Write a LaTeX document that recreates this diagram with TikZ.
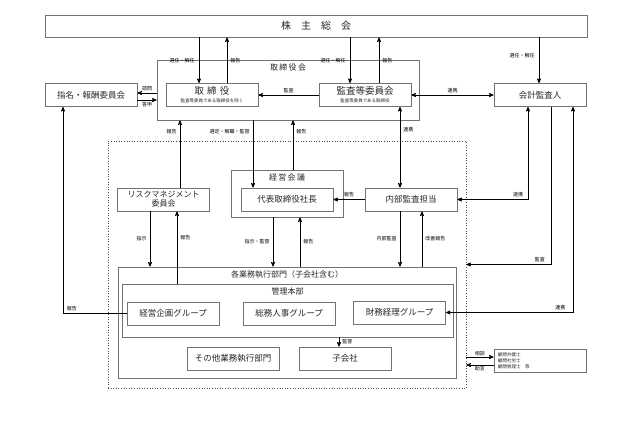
\documentclass[tikz,border=0pt]{standalone}
\usepackage{fontspec}
\setmainfont{Noto Sans CJK JP}
\usepackage{tikz}
\usetikzlibrary{arrows,positioning}
\tikzstyle{bx}=[draw=black!55, line width=0.8pt, minimum width=92pt, minimum height=23pt, inner sep=0pt, font=\fontsize{8.5}{10}\selectfont, text=black!85, align=center]
\tikzstyle{frame}=[draw=black!55, line width=0.8pt, inner sep=0pt, text=black!85]
\tikzstyle{lbl}=[font=\fontsize{5}{5.5}\selectfont, inner sep=1pt]
\tikzstyle{ttl}=[font=\fontsize{8}{10}\selectfont, inner sep=0pt, text=black!85]

\begin{document}
\begin{tikzpicture}
[x=1pt, y=-1pt, ->, >=stealth', line width=0.7pt]
 \useasboundingbox (0,0) rectangle (631,432);
 \node[frame, minimum width=542pt, minimum height=22pt, font=\fontsize{10}{12}\selectfont] (kabu) at (316,26) {株\quad 主\quad 総\quad 会};
 \node[frame, minimum width=262pt, minimum height=60pt] (torikai) at (288,90) {};
 \node[ttl, below=4pt of torikai.north] (torikailbl) {取\,締\,役\,会};
 \node[bx] (tori) at (212,95) {{\fontsize{9.5}{10}\selectfont 取\,\,締\,\,役}\\[-2pt]{\fontsize{4.5}{5}\selectfont 監査等委員である取締役を除く}};
 \node[bx] (kansa) at (365,95) {{\fontsize{9.5}{10}\selectfont 監査等委員会}\\[-2pt]{\fontsize{4.5}{5}\selectfont 監査等委員である取締役}};
 \node[bx] (shimei) at (91,95) {指名・報酬委員会};
 \node[bx] (kaikei) at (540,95) {会計監査人};
 \node[draw=black!70, dotted, line width=0.6pt, minimum width=358pt, minimum height=247pt] (soshiki) at (287,264.5) {};
 \node[frame, minimum width=112pt, minimum height=47pt] (keiei) at (287,193.5) {};
 \node[ttl, below=4pt of keiei.north] (keieilbl) {経\,営\,会\,議};
 \node[bx] (shacho) at (287,199.5) {代表取締役社長};
 \node[bx] (naibu) at (411,199.5) {内部監査担当};
 \node[bx, font=\fontsize{8}{9}\selectfont] (risk) at (163.5,199.5) {リスクマネジメント\\委員会};
 \node[frame, minimum width=338pt, minimum height=111pt] (gyomu) at (287,322.5) {};
 \node[ttl, below=4pt of gyomu.north] (gyomulbl) {各業務執行部門（子会社含む）};
 \node[frame, minimum width=331pt, minimum height=53pt] (kanri) at (287.5,310.5) {};
 \node[ttl, below=4pt of kanri.north] (kanrilbl) {管理本部};
 \node[bx] (kikaku) at (173,313.5) {経営企画グループ};
 \node[bx] (somu) at (289,313.5) {総務人事グループ};
 \node[bx] (zaimu) at (399.5,312.5) {財務経理グループ};
 \node[bx] (sonota) at (233,358.5) {その他業務執行部門};
 \node[bx] (kogaisha) at (345,358.5) {子会社};
 \node[bx, text width=84pt, inner xsep=4pt, align=left, font=\fontsize{4.5}{6}\selectfont] (komon) at (540,360.5) {顧問弁護士\\顧問社労士\\顧問税理士\quad 等};
 \draw ([xshift=-13pt]tori.north |- kabu.south) -- node[lbl, left=3pt] {選任・解任} ([xshift=-13pt]tori.north);
 \draw ([xshift=15pt]tori.north) -- node[lbl, right=2pt] {報告} ([xshift=15pt]tori.north |- kabu.south);
 \draw ([xshift=-15pt]kansa.north |- kabu.south) -- node[lbl, left=3pt] {選任・解任} ([xshift=-15pt]kansa.north);
 \draw ([xshift=14pt]kansa.north) -- node[lbl, right=2pt] {報告} ([xshift=14pt]kansa.north |- kabu.south);
 \draw ([xshift=-1pt]kaikei.north |- kabu.south) -- node[lbl, left=3pt, pos=0.4] {選任・解任} ([xshift=-1pt]kaikei.north);
 \draw ([yshift=2pt]shimei.east -| torikai.west) -- node[lbl, above=1pt] {諮問} ([yshift=2pt]shimei.east);
 \draw ([yshift=-5pt]shimei.east) -- node[lbl, below=1pt] {答申} ([yshift=-5pt]shimei.east -| torikai.west);
 \draw (kansa.west) -- node[lbl, above=1pt] {監査} (tori.east);
 \draw[<->] (kansa.east) -- node[lbl, above=1pt] {連携} (kaikei.west);
 \draw[<->] ([xshift=35pt]kansa.south) -- node[lbl, right=2pt, pos=0.28] {連携} ([xshift=35pt]kansa.south |- naibu.north);
 \draw ([xshift=16.5pt]risk.north) -- node[lbl, left=2pt, pos=0.84] {報告} ([xshift=16.5pt]risk.north |- torikai.south);
 \draw ([xshift=-34pt]shacho.north |- torikai.south) -- node[lbl, left=2pt, pos=0.16] {選定・解職・監督} ([xshift=-34pt]shacho.north);
 \draw ([xshift=6pt]keiei.north) -- node[lbl, right=2pt, pos=0.78] {報告} ([xshift=6pt]keiei.north |- torikai.south);
 \draw (naibu.west) -- node[lbl, above=1pt] {報告} (shacho.east);
 \draw[<->] ([xshift=-12pt]kaikei.south) |- node[lbl, above=1pt, pos=0.57] {連携} (naibu.east);
 \draw ([xshift=11pt]kaikei.south) |- node[lbl, above=1pt, pos=0.565] {監査} (soshiki.east);
 \draw[<->] ([xshift=33pt]kaikei.south) |- node[lbl, above=1pt, pos=0.55] {連携} (zaimu.east);
 \draw (kikaku.west) -| node[lbl, above=1pt, pos=0.43] {報告} ([xshift=-28pt]shimei.south);
 \draw ([xshift=-13.5pt]risk.south) -- node[lbl, left=2pt] {指示} ([xshift=-13.5pt]risk.south |- gyomu.north);
 \draw ([xshift=13.5pt]risk.south |- kanri.north) -- node[lbl, right=2pt, pos=0.63] {報告} ([xshift=13.5pt]risk.south);
 \draw ([xshift=-14pt]keiei.south) -- node[lbl, left=2pt] {指示・監督} ([xshift=-14pt]keiei.south |- gyomu.north);
 \draw ([xshift=13pt]keiei.south |- gyomu.north) -- node[lbl, right=2pt] {報告} ([xshift=13pt]keiei.south);
 \draw ([xshift=-11pt]naibu.south) -- node[lbl, left=2pt] {内部監査} ([xshift=-11pt]naibu.south |- gyomu.north);
 \draw ([xshift=11pt]naibu.south |- gyomu.north) -- node[lbl, right=2pt] {改善報告} ([xshift=11pt]naibu.south);
 \draw ([xshift=-6pt]kogaisha.north |- kanri.south) -- node[lbl, right=2pt] {監督} ([xshift=-6pt]kogaisha.north);
 \draw ([yshift=3.5pt]komon.west -| soshiki.east) -- node[lbl, above=0pt] {相談} ([yshift=3.5pt]komon.west);
 \draw ([yshift=-4.5pt]komon.west) -- node[lbl, below=0pt] {助言} ([yshift=-4.5pt]komon.west -| soshiki.east);
\end{tikzpicture}
\end{document}
